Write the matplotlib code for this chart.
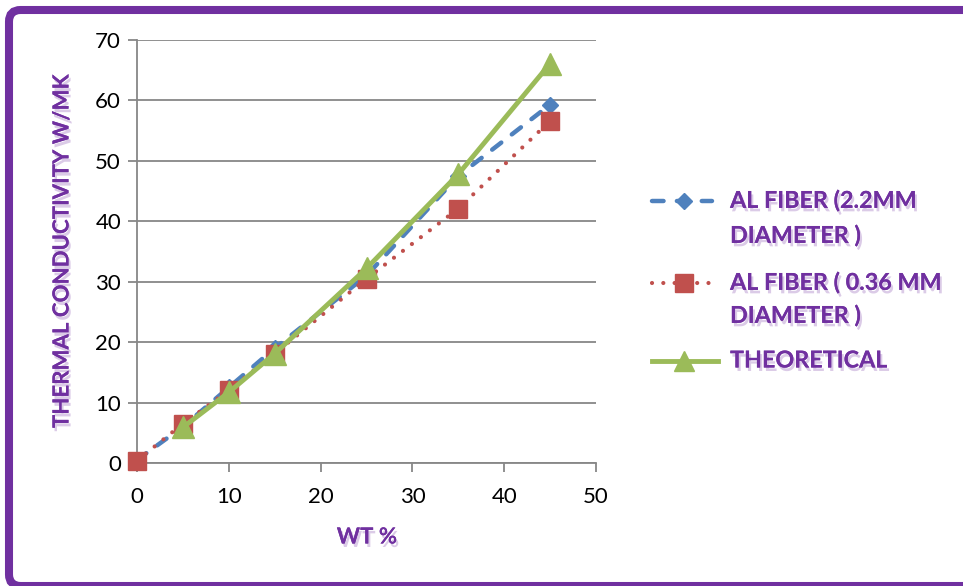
import matplotlib
matplotlib.use("Agg")
import matplotlib.pyplot as plt
import matplotlib.patheffects as pe
from matplotlib.lines import Line2D
from matplotlib.patches import FancyBboxPatch

# ---- data ----
wt_blue = [0, 5, 10, 15, 25, 35, 45]
k_blue = [0.5, 6.0, 12.5, 19.0, 31.0, 47.5, 59.3]
wt_red = [0, 5, 10, 15, 25, 35, 45]
k_red = [0.4, 6.5, 12.0, 18.1, 30.5, 42.1, 56.6]
wt_green = [5, 10, 15, 25, 35, 45]
k_green = [5.9, 11.7, 18.1, 32.2, 47.8, 66.1]

labels = ["AL FIBER (2.2MM\nDIAMETER )", "AL FIBER ( 0.36 MM\nDIAMETER )", "THEORETICAL"]
x_label = "WT %"
y_label = "THERMAL CONDUCTIVITY W/MK"
x_ticks = [0, 10, 20, 30, 40, 50]
y_ticks = [0, 10, 20, 30, 40, 50, 60, 70]

BLUE = "#4F81BD"
RED = "#C0504D"
GREEN = "#9BBB59"
PURPLE = "#7030A0"
GRID = "#878787"

W, H = 963, 586
fig = plt.figure(figsize=(W / 100, H / 100), dpi=100)
fig.patch.set_facecolor("white")

def fx(px):
    return px / W

def fy(py):
    return 1 - py / H

ax = fig.add_axes([fx(137), fy(463), fx(596) - fx(137), fy(40) - fy(463)])
ax.set_xlim(0, 50)
ax.set_ylim(0, 70)
ax.set_xticks(x_ticks)
ax.set_yticks(y_ticks)
for s in ["top", "right"]:
    ax.spines[s].set_visible(False)
for s in ["left", "bottom"]:
    ax.spines[s].set_color(GRID)
    ax.spines[s].set_linewidth(1.3)
ax.grid(axis="y", color=GRID, linewidth=1.3)
ax.set_axisbelow(True)
ax.tick_params(axis="both", direction="out", length=6.5, width=1.3, color=GRID,
               labelsize=16, labelcolor="black")
ax.tick_params(axis="y", pad=5)
ax.tick_params(axis="x", pad=11)
for lab in ax.get_xticklabels() + ax.get_yticklabels():
    lab.set_family("Lato")

BLUE_LS = (0, (2.6, 3.0))
RED_LS = (0, (0.01, 2.7))
ax.plot(wt_blue, k_blue, color=BLUE, lw=3.2, linestyle=BLUE_LS,
        dash_capstyle="round", marker="D", markersize=8, markerfacecolor=BLUE,
        markeredgecolor=BLUE, clip_on=False, zorder=3)
ax.plot(wt_red, k_red, color=RED, lw=3.0, linestyle=RED_LS,
        dash_capstyle="round", marker="s", markersize=13, markerfacecolor=RED,
        markeredgecolor=RED, clip_on=False, zorder=4)
ax.plot(wt_green, k_green, color=GREEN, lw=3.5, linestyle="-",
        marker="^", markersize=16, markerfacecolor=GREEN, markeredgecolor=GREEN,
        clip_on=False, zorder=5)

shadow = [pe.withSimplePatchShadow(offset=(1.5, -2.5), shadow_rgbFace=PURPLE, alpha=0.25),
          pe.Normal()]

fig.text(fx(367), fy(537), x_label, ha="center", va="center", fontsize=16,
         fontweight="bold", color=PURPLE, family="Lato", path_effects=shadow)
fig.text(fx(62), fy(251), y_label, ha="center", va="center", rotation=90,
         fontsize=16, fontweight="bold", color=PURPLE, family="Lato", path_effects=shadow)

# legend (drawn manually to keep handles aligned with first text line)
handles = [
    dict(color=BLUE, ls=BLUE_LS, lw=3.2, marker="D", ms=8, y=201, x1=712),
    dict(color=RED, ls=RED_LS, lw=3.0, marker="s", ms=13, y=283, x1=712),
    dict(color=GREEN, ls="-", lw=3.5, marker="^", ms=15, y=361, x1=718),
]
line_rows = [[201, 236], [283, 316], [361]]
for h, lab, rows in zip(handles, labels, line_rows):
    ln = Line2D([fx(652), fx(h["x1"])], [fy(h["y"]), fy(h["y"])], transform=fig.transFigure,
                color=h["color"], lw=h["lw"], linestyle=h["ls"], dash_capstyle="round")
    fig.add_artist(ln)
    mk = Line2D([fx(684)], [fy(h["y"])], transform=fig.transFigure, color=h["color"],
                marker=h["marker"], ms=h["ms"], linestyle="none")
    fig.add_artist(mk)
    for part, ry in zip(lab.split("\n"), rows):
        fig.text(fx(730), fy(ry), part, ha="left", va="center", fontsize=16.8,
                 fontweight="bold", color=PURPLE, family="Lato", path_effects=shadow)

# purple frame
frame = FancyBboxPatch((fx(9), fy(586)), 1.2, fy(10) - fy(586),
                       boxstyle="round,pad=0,rounding_size=0.012",
                       transform=fig.transFigure, facecolor="none",
                       edgecolor=PURPLE, linewidth=5.8, mutation_aspect=W / H,
                       clip_on=False)
fig.add_artist(frame)

fig.savefig("out.png", dpi=100)
